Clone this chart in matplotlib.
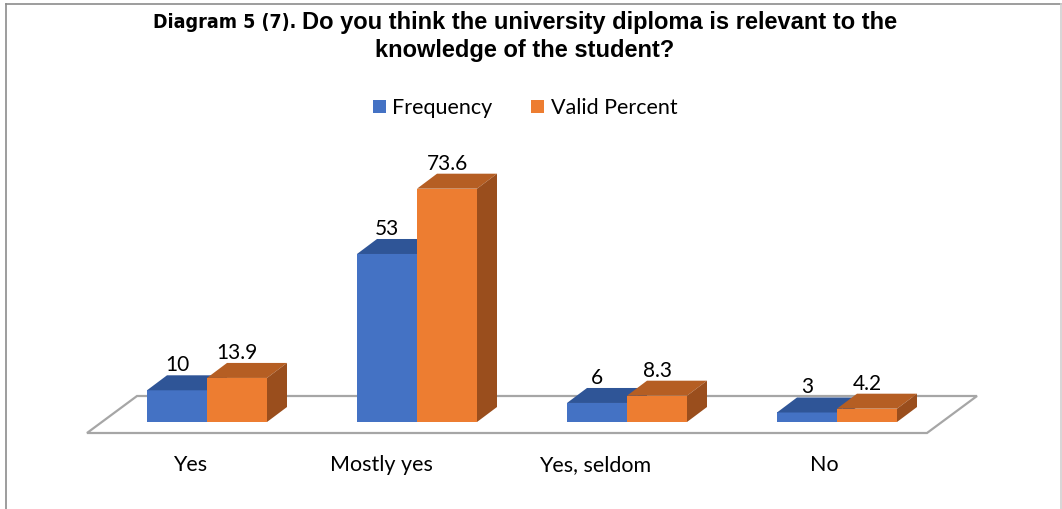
import matplotlib
matplotlib.use('Agg')
import matplotlib.pyplot as plt
from matplotlib.patches import Polygon, Patch
from matplotlib import font_manager

# data
categories = ['Yes', 'Mostly yes', 'Yes, seldom', 'No']
frequency = [10, 53, 6, 3]
valid_percent = [13.9, 73.6, 8.3, 4.2]
series_names = ['Frequency', 'Valid Percent']

# colours (front, top, side)
blue = ('#4472C4', '#2F5597', '#2E4F8C')
orange = ('#ED7D31', '#B55E23', '#9A4E1D')

W, H = 1062, 509
PX = 3.17  # pixels per value unit

names = {f.name for f in font_manager.fontManager.ttflist}
body_font = 'Lato' if 'Lato' in names else 'DejaVu Sans'

# a narrow bold face for the "Diagram 5 (7)." lead-in, if there is one
narrow = None
for f in font_manager.fontManager.ttflist:
    fn = f.fname.lower()
    if ('narrow' in fn or 'condensed' in fn) and 'bold' in fn and 'oblique' not in fn and 'italic' not in fn:
        narrow = font_manager.FontProperties(fname=f.fname, size=14)
        break
if narrow is None:
    narrow = font_manager.FontProperties(family='Liberation Sans', weight='bold', size=14)

fig = plt.figure(figsize=(W / 100, H / 100), dpi=100)
ax = fig.add_axes([102 / W, (H - 422) / H, 840 / W, 80 * PX / H])
ax.set_xlim(-0.5, 3.5)
ax.set_ylim(0, 80)
ax.axis('off')

bw = 60 / 210          # bar width in category units
dx = 20 / 210          # depth offset x
dy = 15 / PX           # depth offset y

# floor
f0 = -11 / PX
f1 = f0 + 37 / PX
fl = (87 - 102) / 210 - 0.5
fr = (927 - 102) / 210 - 0.5
fs = 50 / 210
ax.add_patch(Polygon([(fl, f0), (fr, f0), (fr + fs, f1), (fl + fs, f1)], closed=True,
                     fc='white', ec='#A6A6A6', lw=1.6, clip_on=False, zorder=1))


def bar3d(x0, h, cols, z):
    front, top, side = cols
    ax.add_patch(Polygon([(x0, 0), (x0 + bw, 0), (x0 + bw, h), (x0, h)],
                         fc=front, ec='none', clip_on=False, zorder=z))
    ax.add_patch(Polygon([(x0, h), (x0 + bw, h), (x0 + bw + dx, h + dy), (x0 + dx, h + dy)],
                         fc=top, ec='none', clip_on=False, zorder=z))
    ax.add_patch(Polygon([(x0 + bw, 0), (x0 + bw + dx, dy), (x0 + bw + dx, h + dy), (x0 + bw, h)],
                         fc=side, ec='none', clip_on=False, zorder=z))


label_shift = [-0.08, -0.17, -0.15, -0.06]
for i, cat in enumerate(categories):
    bar3d(i - bw, frequency[i], blue, 2 + i)
    bar3d(i, valid_percent[i], orange, 2 + i)
    ax.text(i - bw / 2, frequency[i] + dy, '%g' % frequency[i], ha='center', va='bottom',
            fontsize=15, family=body_font, zorder=10, clip_on=False)
    ax.text(i + bw / 2, valid_percent[i] + dy, '%g' % valid_percent[i], ha='center', va='bottom',
            fontsize=15, family=body_font, zorder=10, clip_on=False)
    ax.text(i + label_shift[i], -43 / PX, cat, ha='center', va='center',
            fontsize=15.5, family=body_font, clip_on=False)

# legend
handles = [Patch(fc=blue[0], ec='none'), Patch(fc=orange[0], ec='none')]
fig.legend(handles, series_names, loc='center', bbox_to_anchor=(525 / W, 1 - 108 / H), ncol=2,
           frameon=False, prop={'family': body_font, 'size': 15.5},
           handlelength=0.6, handleheight=0.6, handletextpad=0.3, columnspacing=1.8)

# title: narrow lead-in, then bold arial
r = fig.canvas.get_renderer()
ta = fig.text(0, 1 - 22 / H, 'Diagram 5 (7).', fontproperties=narrow, va='center', ha='left')
tb = fig.text(0, 1 - 22 / H, 'Do you think the university diploma is relevant to the',
              family='Liberation Sans', weight='bold', fontsize=17, va='center', ha='left')
wa = ta.get_window_extent(r).width
wb = tb.get_window_extent(r).width
gap = 6
start = 525 - (wa + gap + wb) / 2
ta.set_x(start / W)
tb.set_x((start + wa + gap) / W)
fig.text(525 / W, 1 - 50 / H, 'knowledge of the student?', family='Liberation Sans',
         weight='bold', fontsize=17, va='center', ha='center')

# chart border
fig.add_artist(plt.Line2D([5.5 / W, 1060.5 / W], [1 - 3.5 / H, 1 - 3.5 / H], color='#8C8C8C', lw=1.2))
fig.add_artist(plt.Line2D([5.5 / W, 5.5 / W], [0, 1 - 3.5 / H], color='#8C8C8C', lw=1.2))
fig.add_artist(plt.Line2D([1060.5 / W, 1060.5 / W], [0, 1 - 3.5 / H], color='#D0D0D0', lw=1.2))

fig.savefig('out.png', dpi=100)
